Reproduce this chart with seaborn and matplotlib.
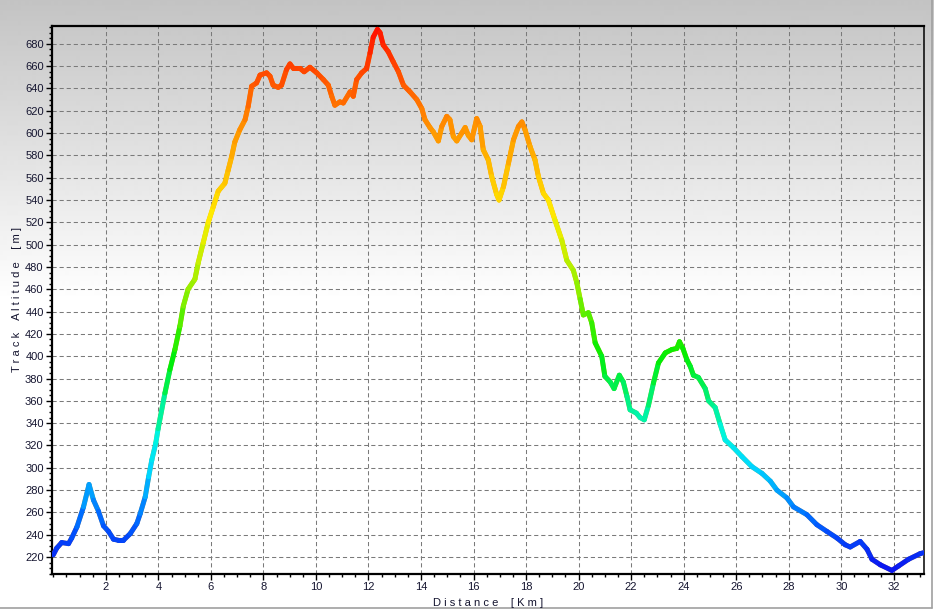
import numpy as np
import matplotlib
matplotlib.use("Agg")
import matplotlib.pyplot as plt
import seaborn as sns
from matplotlib.collections import LineCollection
from matplotlib.colors import LinearSegmentedColormap, Normalize
from matplotlib.ticker import MultipleLocator

# track profile
distance_km = [
    0.00, 0.13, 0.32, 0.58, 0.70, 0.90, 1.15, 1.36, 1.53, 1.72, 1.91, 2.10,
    2.29, 2.48, 2.67, 2.93, 3.18, 3.31, 3.50, 3.63, 3.75, 3.90, 3.99, 4.25,
    4.44, 4.63, 4.82, 4.95, 5.13, 5.39, 5.52, 5.71, 5.90, 6.09, 6.28, 6.53,
    6.66, 6.79, 6.91, 7.10, 7.30, 7.42, 7.55, 7.74, 7.87, 8.12, 8.25, 8.37,
    8.56, 8.69, 8.88, 9.01, 9.14, 9.39, 9.55, 9.77, 10.03, 10.28, 10.47, 10.60,
    10.72, 10.91, 11.04, 11.30, 11.42, 11.55, 11.74, 11.93, 12.06, 12.18, 12.34, 12.44,
    12.56, 12.75, 12.94, 13.14, 13.33, 13.58, 13.84, 14.03, 14.15, 14.34, 14.47, 14.66,
    14.79, 14.98, 15.10, 15.23, 15.36, 15.55, 15.68, 15.80, 15.93, 16.12, 16.25, 16.37,
    16.56, 16.69, 16.88, 16.97, 17.14, 17.33, 17.52, 17.71, 17.84, 17.96, 18.15, 18.34,
    18.47, 18.66, 18.85, 19.10, 19.36, 19.55, 19.80, 19.93, 20.06, 20.18, 20.37, 20.50,
    20.63, 20.88, 21.00, 21.20, 21.35, 21.55, 21.70, 21.84, 21.96, 22.20, 22.34, 22.50,
    22.66, 22.85, 23.04, 23.30, 23.55, 23.74, 23.84, 23.97, 24.12, 24.25, 24.37, 24.56,
    24.82, 24.95, 25.20, 25.39, 25.58, 25.90, 26.22, 26.60, 26.98, 27.30, 27.55, 27.93,
    28.18, 28.69, 29.07, 29.45, 29.84, 30.15, 30.34, 30.72, 30.98, 31.17, 31.49, 31.93,
    32.18, 32.56, 33.00, 33.15,
]
altitude_m = [
    222, 228, 233, 232, 237, 247, 265, 285, 271, 261, 248, 243,
    236, 235, 235, 241, 250, 259, 274, 292, 307, 322, 335, 367,
    388, 406, 427, 445, 460, 469, 484, 502, 520, 534, 548, 555,
    567, 579, 592, 603, 612, 624, 642, 645, 652, 654, 651, 643,
    641, 643, 657, 662, 658, 658, 655, 659, 654, 648, 643, 633,
    625, 628, 627, 637, 633, 648, 654, 658, 672, 686, 693, 690,
    679, 673, 664, 655, 643, 637, 630, 622, 612, 605, 601, 593,
    606, 615, 612, 597, 593, 600, 605, 598, 594, 613, 606, 585,
    576, 561, 545, 540, 552, 573, 594, 606, 610, 603, 588, 576,
    561, 546, 540, 522, 504, 486, 477, 466, 451, 437, 439, 430,
    412, 400, 382, 377, 371, 383, 377, 364, 352, 349, 345, 343,
    356, 376, 394, 403, 406, 407, 413, 407, 397, 391, 383, 381,
    371, 360, 354, 339, 325, 318, 310, 301, 295, 288, 280, 273,
    265, 258, 249, 243, 237, 231, 229, 234, 227, 218, 213, 208,
    212, 218, 223, 224,
]
x_ticks = list(range(2, 33, 2))
y_ticks = list(range(220, 681, 20))

sns.set_style("white")
plt.rcParams['font.family'] = ['Liberation Sans', 'DejaVu Sans']

W, H = 934, 610
fig = plt.figure(figsize=(W / 100, H / 100), dpi=100)

# grey-to-white background behind everything
bg = fig.add_axes([0, 0, 1, 1], zorder=-10)
bg.axis("off")
rows = np.arange(H)
shade = 0.765 + 0.235 * np.clip(rows / 300, 0, 1)
bg.imshow(shade[:, None], cmap="gray", vmin=0, vmax=1, aspect="auto",
          extent=[0, 1, 0, 1], interpolation="bilinear")
bg.plot([931.5 / W, 931.5 / W], [1 - 608 / H, 1], color="#a0a0a0", lw=1.2)
bg.plot([0, 931.5 / W], [1 - 608 / H, 1 - 608 / H], color="#a0a0a0", lw=1.2)
bg.set_xlim(0, 1)
bg.set_ylim(0, 1)

left, right, top, bottom = 52, 924, 26, 574
ax = fig.add_axes([left / W, 1 - bottom / H, (right - left) / W, (bottom - top) / H])
ax.patch.set_alpha(0)

# altitude colour ramp blue -> cyan -> green -> yellow -> red
stops = [(208, "#0a14f0"), (250, "#0060ff"), (300, "#00d8ff"), (330, "#00f5e0"),
         (400, "#00ee00"), (460, "#90f000"), (525, "#ffee00"), (600, "#ff9900"),
         (693, "#ff1100")]
lo, hi = stops[0][0], stops[-1][0]
cmap = LinearSegmentedColormap.from_list(
    "alt", [((v - lo) / (hi - lo), c) for v, c in stops])
norm = Normalize(lo, hi)

sns.lineplot(x=distance_km, y=altitude_m, ax=ax, sort=False, color="#ff9900",
             lw=3.4, solid_capstyle="round", zorder=3)

pts = np.column_stack([distance_km, altitude_m])
segs = np.stack([pts[:-1], pts[1:]], axis=1)
mid = (np.array(altitude_m[:-1]) + np.array(altitude_m[1:])) / 2
lc = LineCollection(segs, colors=cmap(norm(mid)), linewidths=3.6,
                    capstyle="round", joinstyle="round", zorder=4)
ax.add_collection(lc)

ax.set_xlim(-0.05, 33.15)
ax.set_ylim(204.8, 696)
ax.set_xticks(x_ticks)
ax.set_yticks(y_ticks)
ax.xaxis.set_minor_locator(MultipleLocator(0.5))
ax.yaxis.set_minor_locator(MultipleLocator(5))
ax.tick_params(which="major", direction="out", length=4, width=1,
               color="black", labelsize=8, labelcolor="#151530", pad=2,
               bottom=True, left=True)
ax.tick_params(which="minor", direction="out", length=2.5, width=1,
               color="black", bottom=True, left=True)

ax.set_axisbelow(True)
ax.grid(False, which="minor")
ax.grid(True, which="major", color="#7a7a7a", linestyle=(0, (4, 2.8)), lw=0.75)

for side in ["left", "bottom", "top"]:
    ax.spines[side].set_linewidth(1.6)
    ax.spines[side].set_color("black")
ax.spines["right"].set_linewidth(1.1)
ax.spines["right"].set_color("black")

ax.set_xlabel(" ".join("Distance") + "    " + "[ K m ]", fontsize=8,
              color="#151530", labelpad=4)
ax.set_ylabel(" ".join("Track") + "    " + " ".join("Altitude") + "    " + "[ m ]",
              fontsize=8, color="#151530")
ax.yaxis.set_label_coords(-(left - 22) / (right - left), 0.5)

fig.savefig("out.png", dpi=100)
